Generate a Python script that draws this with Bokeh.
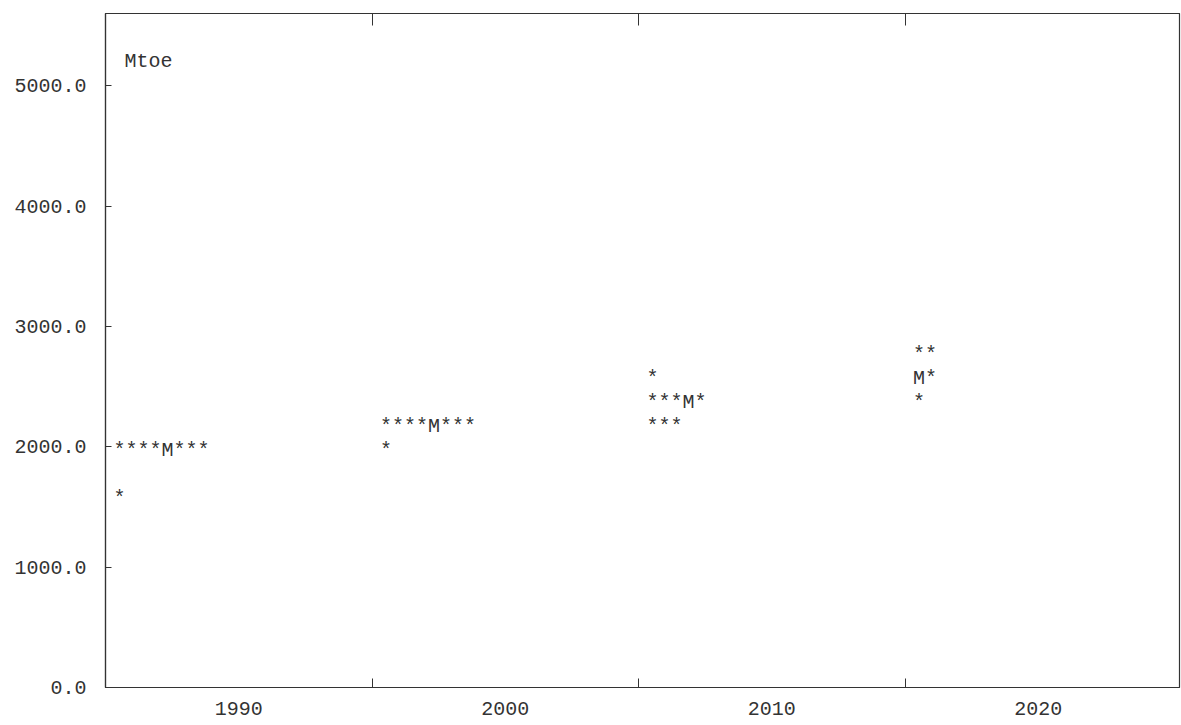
from bokeh.plotting import figure
from bokeh.models import (FixedTicker, NumeralTickFormatter, Range1d, Label,
                          ColumnDataSource, LinearAxis)
from bokeh.core.properties import value
from bokeh.embed import file_html
from bokeh.resources import INLINE

# ---- data ----
periods = [1990, 2000, 2010, 2020]                 # labelled years
mid_ticks = [1995, 2005, 2015]                     # tick marks on the x axis
row_period = [1990, 1990, 2000, 2000, 2010, 2010, 2010, 2020, 2020, 2020]
row_level = [2000, 1600, 2200, 2000, 2600, 2400, 2200, 2800, 2600, 2400]
row_marks = ["****M***", "*", "****M***", "*", "*", "***M*", "***", "**", "M*", "*"]
y_ticks = [0, 1000, 2000, 3000, 4000, 5000]
unit_label = "Mtoe"

FONT = "Liberation Mono"
INK = "#333333"
FS = "20px"

# each group of forecasts starts at the half-decade before its year
row_x = [p - 5 for p in row_period]
src = ColumnDataSource(dict(x=row_x, y=row_level, t=row_marks))

p = figure(width=1181, height=725,
           x_range=Range1d(1985, 2025.3), y_range=Range1d(0, 5600),
           output_backend="svg", toolbar_location=None,
           min_border_left=105, min_border_top=13,
           min_border_bottom=38, min_border_right=2)
p.grid.visible = False
p.outline_line_color = INK
p.outline_line_width = 1.2
p.background_fill_color = "white"
p.border_fill_color = "white"

# x axis: labels at decades, tick marks at mid-decades
xt = FixedTicker(ticks=periods, minor_ticks=mid_ticks)
xa = p.xaxis[0]
xa.ticker = xt
xa.major_tick_in = 0
xa.major_tick_out = 0
xa.minor_tick_in = 9
xa.minor_tick_out = 0
xa.minor_tick_line_color = INK
xa.axis_line_color = INK
xa.axis_line_width = 1.2
xa.major_label_text_font = FONT
xa.major_label_text_font_size = FS
xa.major_label_text_color = INK
xa.major_label_standoff = 14

# top axis: only the inner tick marks
ta = LinearAxis(ticker=FixedTicker(ticks=[], minor_ticks=mid_ticks),
                major_label_text_font_size="0px", major_label_standoff=0,
                major_tick_in=0, major_tick_out=0,
                minor_tick_in=12, minor_tick_out=0,
                minor_tick_line_color=INK, axis_line_color=INK)
p.add_layout(ta, "above")

ya = p.yaxis[0]
ya.ticker = FixedTicker(ticks=y_ticks, minor_ticks=[])
ya.formatter = NumeralTickFormatter(format="0.0")
ya.major_tick_in = 6
ya.major_tick_out = 0
ya.major_tick_line_color = INK
ya.axis_line_color = INK
ya.axis_line_width = 1.2
ya.major_label_text_font = FONT
ya.major_label_text_font_size = FS
ya.major_label_text_color = INK
ya.major_label_standoff = 19

p.text(x="x", y="y", text="t", source=src,
       text_font=value(FONT), text_font_size=FS,
       text_align="left", text_baseline="middle",
       x_offset=8, y_offset=4, text_color=INK)

p.add_layout(Label(x=1985, y=5200, x_offset=19, text=unit_label,
                   text_font=FONT, text_font_size=FS,
                   text_baseline="middle", text_color=INK))

open("out.html", "w").write(file_html(p, INLINE))
